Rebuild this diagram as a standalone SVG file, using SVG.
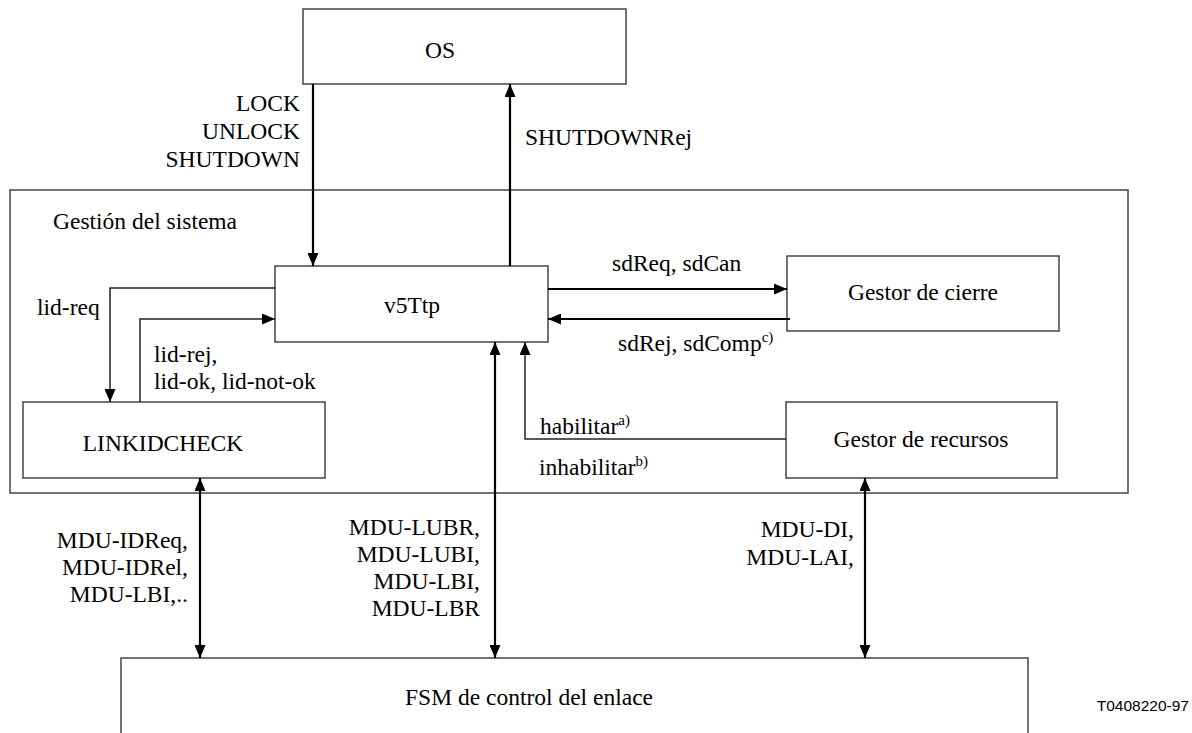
<svg xmlns="http://www.w3.org/2000/svg" width="1192" height="733" viewBox="0 0 1192 733">
<style>
.box{fill:#fff;stroke:#444;stroke-width:1.5}
.frame{fill:none;stroke:#444;stroke-width:1.5}
.t{font-family:"Liberation Serif","Times New Roman",serif;font-size:23.5px;fill:#000}
.m{text-anchor:middle}
.e{text-anchor:end}
.sup{font-size:15px}
.thick{fill:none;stroke:#000;stroke-width:2.2}
.thin{fill:none;stroke:#222;stroke-width:1.5}
.id{font-family:"Liberation Sans",Arial,sans-serif;font-size:15.5px;fill:#000;text-anchor:end}
</style>
<defs>
<marker id="ah" markerUnits="userSpaceOnUse" markerWidth="13" markerHeight="11" viewBox="0 0 13 11" refX="13" refY="5.5" orient="auto-start-reverse">
<path d="M0,0 L13,5.5 L0,11 Z" fill="#000"/>
</marker>
</defs>
<g id="system">
<rect class="frame" x="10" y="190" width="1118" height="303"/>
<text class="t" x="53" y="229">Gestión del sistema</text>
</g>
<g id="os">
<rect class="box" x="303" y="9" width="323" height="75"/>
<text class="t m" x="440" y="58">OS</text>
</g>
<g id="v5ttp">
<rect class="box" x="275" y="266" width="273" height="76"/>
<text class="t m" x="412" y="313">v5Ttp</text>
</g>
<g id="gestor-cierre">
<rect class="box" x="787" y="256" width="272" height="75"/>
<text class="t m" x="923" y="300">Gestor de cierre</text>
</g>
<g id="linkidcheck">
<rect class="box" x="23" y="402" width="302" height="76"/>
<text class="t m" x="163" y="451">LINKIDCHECK</text>
</g>
<g id="gestor-recursos">
<rect class="box" x="786" y="402" width="271" height="76"/>
<text class="t m" x="921" y="447">Gestor de recursos</text>
</g>
<g id="fsm">
<rect class="box" x="121" y="658" width="907" height="90"/>
<text class="t" x="405" y="705">FSM de control del enlace</text>
</g>
<g id="connectors">
<line class="thick" x1="313" y1="84" x2="313" y2="266" marker-end="url(#ah)"/>
<line class="thick" x1="510" y1="266" x2="510" y2="84" marker-end="url(#ah)"/>
<polyline class="thin" points="275,288 110,288 110,402" marker-end="url(#ah)"/>
<polyline class="thin" points="140,402 140,319 275,319" marker-end="url(#ah)"/>
<line class="thick" x1="548" y1="289" x2="787" y2="289" marker-end="url(#ah)"/>
<line class="thick" x1="790" y1="319" x2="548" y2="319" marker-end="url(#ah)"/>
<polyline class="thin" points="786,439 525,439 525,342" marker-end="url(#ah)"/>
<line class="thick" x1="495" y1="342" x2="495" y2="658" marker-start="url(#ah)" marker-end="url(#ah)"/>
<line class="thick" x1="200" y1="478" x2="200" y2="658" marker-start="url(#ah)" marker-end="url(#ah)"/>
<line class="thick" x1="865" y1="478" x2="865" y2="658" marker-start="url(#ah)" marker-end="url(#ah)"/>
</g>
<g id="labels">
<text class="t e" x="300" y="111">LOCK</text>
<text class="t e" x="300" y="139">UNLOCK</text>
<text class="t e" x="300" y="167">SHUTDOWN</text>
<text class="t" x="525" y="145">SHUTDOWNRej</text>
<text class="t" x="37" y="315">lid-req</text>
<text class="t" x="154" y="362">lid-rej,</text>
<text class="t" x="154" y="389">lid-ok, lid-not-ok</text>
<text class="t" x="612" y="271">sdReq, sdCan</text>
<text class="t" x="618" y="351">sdRej, sdComp<tspan class="sup" dy="-9">c)</tspan></text>
<text class="t" x="540" y="434">habilitar<tspan class="sup" dy="-9">a)</tspan></text>
<text class="t" x="539" y="475">inhabilitar<tspan class="sup" dy="-9">b)</tspan></text>
<text class="t e" x="188" y="548">MDU-IDReq,</text>
<text class="t e" x="188" y="575">MDU-IDRel,</text>
<text class="t e" x="188" y="602">MDU-LBI,..</text>
<text class="t e" x="480" y="535">MDU-LUBR,</text>
<text class="t e" x="480" y="562">MDU-LUBI,</text>
<text class="t e" x="480" y="589">MDU-LBI,</text>
<text class="t e" x="480" y="616">MDU-LBR</text>
<text class="t e" x="854" y="537">MDU-DI,</text>
<text class="t e" x="854" y="565">MDU-LAI,</text>
<text class="id" x="1189" y="711">T0408220-97</text>
</g>
</svg>
